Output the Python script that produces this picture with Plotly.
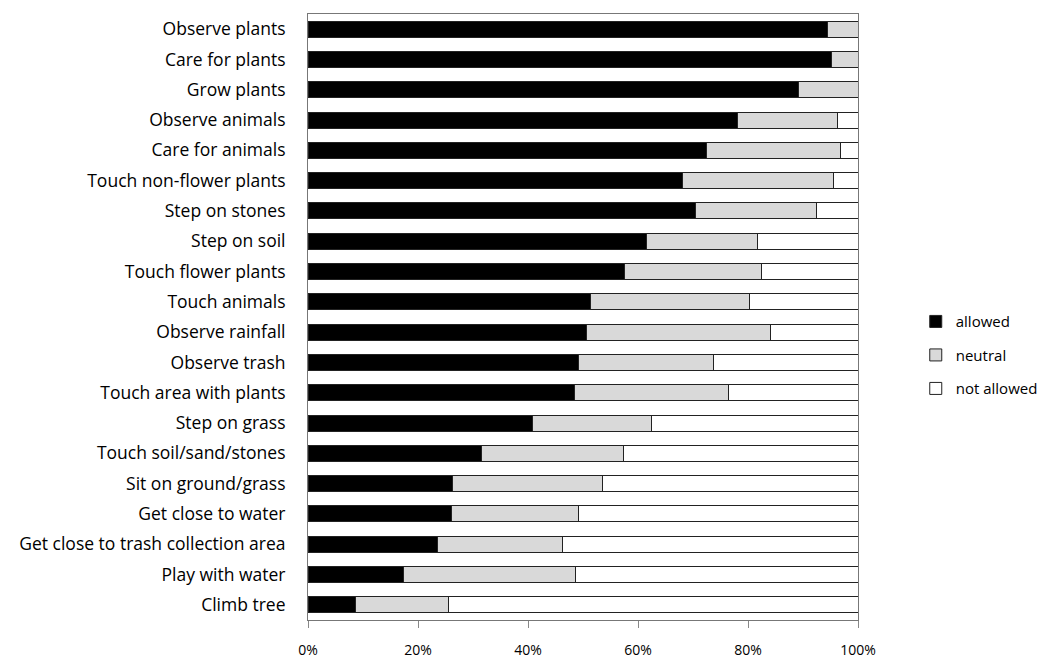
import plotly.graph_objects as go

categories = [
    "Observe plants", "Care for plants", "Grow plants", "Observe animals",
    "Care for animals", "Touch non-flower plants", "Step on stones", "Step on soil",
    "Touch flower plants", "Touch animals", "Observe rainfall", "Observe trash",
    "Touch area with plants", "Step on grass", "Touch soil/sand/stones",
    "Sit on ground/grass", "Get close to water", "Get close to trash collection area",
    "Play with water", "Climb tree",
]
allowed = [94.5, 95.1, 89.1, 78.0, 72.4, 68.0, 70.5, 61.6, 57.6, 51.3,
           50.7, 49.1, 48.4, 40.9, 31.5, 26.2, 26.0, 23.5, 17.3, 8.7]
neutral = [5.5, 4.9, 10.9, 18.2, 24.5, 27.5, 21.9, 20.2, 24.8, 28.9,
           33.3, 24.7, 28.0, 21.6, 25.8, 27.4, 23.1, 22.7, 31.4, 16.9]
not_allowed = [round(100 - a - n, 1) for a, n in zip(allowed, neutral)]

series = [("allowed", allowed, "#000000"),
          ("neutral", neutral, "#d9d9d9"),
          ("not allowed", not_allowed, "#ffffff")]

fig = go.Figure()
for name, vals, col in series:
    fig.add_trace(go.Bar(
        y=categories, x=vals, name=name, orientation="h",
        legendgroup=name,
        marker=dict(color=col, line=dict(color="#222222", width=1)),
        width=0.53,
    ))

fig.update_layout(
    barmode="stack",
    width=1043, height=651,
    margin=dict(l=300, r=193, t=6, b=39, autoexpand=False),
    plot_bgcolor="white", paper_bgcolor="white",
    font=dict(family="Open Sans, sans-serif", size=17, color="#000000"),
    showlegend=True,
    legend=dict(x=1.105, y=0.437, xanchor="left", yanchor="middle",
                traceorder="grouped", font=dict(size=15), itemwidth=30,
                tracegroupgap=11),
    xaxis=dict(range=[0, 100], tickvals=[0, 20, 40, 60, 80, 100],
               ticktext=["0%", "20%", "40%", "60%", "80%", "100%"],
               showgrid=False, zeroline=False, showline=True, linecolor="#777777",
               linewidth=1, ticks="outside", ticklen=7, tickcolor="#888888",
               ticklabelstandoff=10, mirror=True, tickfont=dict(size=14),
               automargin=False),
    yaxis=dict(autorange="reversed", showgrid=False, showline=True,
               linecolor="#777777", linewidth=1, ticks="", ticklabelstandoff=18,
               mirror=True, tickfont=dict(size=17.5), automargin=False),
)

fig.write_html("out.html")
